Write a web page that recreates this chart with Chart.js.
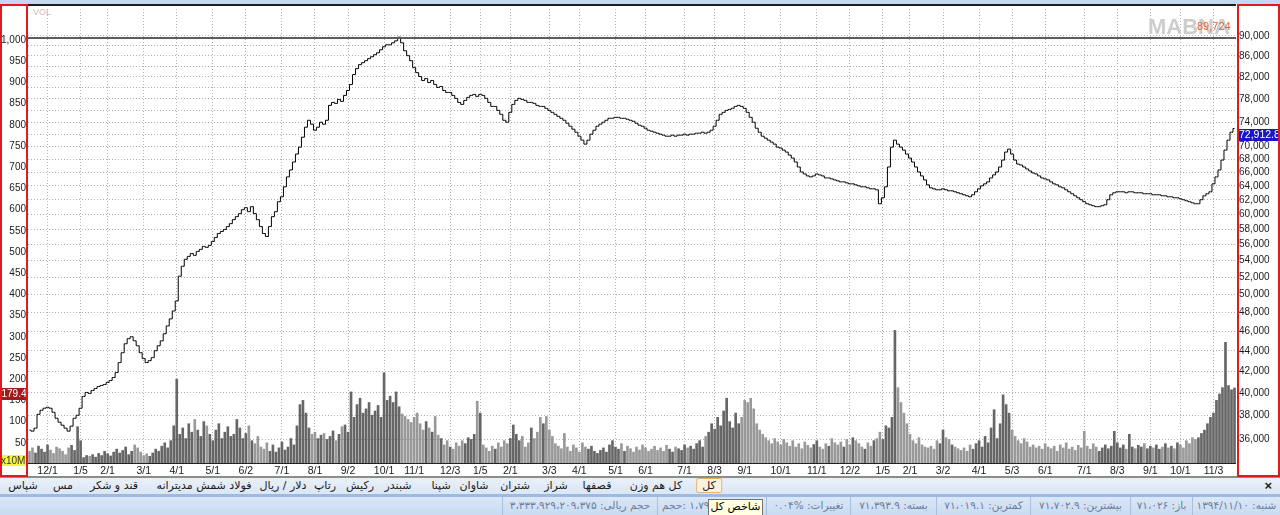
<!DOCTYPE html>
<html>
<head>
<meta charset="utf-8">
<script src="https://cdn.jsdelivr.net/npm/chart.js@4.4.1/dist/chart.umd.min.js"></script>
<style>
  html, body { margin: 0; padding: 0; background: #fff; }
  body { width: 1280px; height: 515px; position: relative; overflow: hidden; font-family: "DejaVu Sans", sans-serif; }
  #wrap { position: absolute; left: 0; top: 0; width: 1280px; height: 477px; }
  #tabs { position: absolute; left: 0; top: 477px; width: 1280px; height: 17px; background: linear-gradient(#e9f0f9, #dbe6f4); border-top: 1px solid #8c8c8c; box-sizing: border-box; }
  .tab { position: absolute; top: 1px; font-size: 11px; color: #1a1a1a; transform: translateX(-50%); white-space: nowrap; direction: rtl; }
  .tab.sel { top: 0; padding: 0 5px; height: 15px; line-height: 14px; border: 1px solid #e2b46a; border-radius: 2px; background: #fbf1df; box-sizing: border-box; }
  #close { position: absolute; right: 8px; top: 0; font-size: 13px; font-weight: bold; color: #222; font-family: "Liberation Sans", sans-serif; }
  #band { position: absolute; left: 0; top: 494px; width: 1280px; height: 3px; background: #9dbbe2; }
  #status { position: absolute; left: 0; top: 497px; width: 1280px; height: 18px; background: linear-gradient(#dae7f6, #c9dbf1); }
  .cell { position: absolute; top: 0; height: 18px; line-height: 17px; font-size: 10.5px; color: #6a7d99; direction: rtl; text-align: center; white-space: nowrap; overflow: hidden; border-left: 1px solid #a9bedb; box-sizing: border-box; }
  #tip { position: absolute; left: 708px; top: 499px; width: 55px; height: 18px; background: #ffffe1; border: 1px solid #767676; box-sizing: border-box; font-size: 11px; line-height: 14px; text-align: center; direction: rtl; color: #000; }
</style>
</head>
<body>
<div id="wrap"><canvas id="chart" width="1280" height="477"></canvas></div>

<div id="tabs">
  <span class="tab" style="left:23px">شپاس</span>
  <span class="tab" style="left:63px">مس</span>
  <span class="tab" style="left:114px">قند و شکر</span>
  <span class="tab" style="left:204px">فولاد شمش مدیترانه</span>
  <span class="tab" style="left:283px">دلار / ریال</span>
  <span class="tab" style="left:325px">رتاپ</span>
  <span class="tab" style="left:360px">رکیش</span>
  <span class="tab" style="left:398px">شبندر</span>
  <span class="tab" style="left:441px">شپنا</span>
  <span class="tab" style="left:474px">شاوان</span>
  <span class="tab" style="left:515px">شتران</span>
  <span class="tab" style="left:556px">شراز</span>
  <span class="tab" style="left:597px">قصفها</span>
  <span class="tab" style="left:656px">کل هم وزن</span>
  <span class="tab sel" style="left:709px">کل</span>
  <span id="close">×</span>
</div>
<div id="band"></div>
<div id="status">
  <div class="cell" style="left:502px;width:155px">حجم ریالی: ۳،۳۳۳،۹۲۹،۲۰۹،۳۷۵</div>
  <div class="cell" style="left:657px;width:109px;text-align:left;padding-left:4px">۱،۷۹۳e+۰۶ :حجم</div>
  <div class="cell" style="left:766px;width:84px">تغییرات: %۰.۰۴</div>
  <div class="cell" style="left:850px;width:86px">بسته: ۷۱،۳۹۳.۹</div>
  <div class="cell" style="left:936px;width:94px">کمترین: ۷۱،۰۱۹.۱</div>
  <div class="cell" style="left:1030px;width:100px">بیشترین: ۷۱،۷۰۲.۹</div>
  <div class="cell" style="left:1130px;width:62px">باز: ۷۱،۰۲۶</div>
  <div class="cell" style="left:1192px;width:88px">شنبه: ۱۳۹۴/۱۱/۱۰</div>
</div>
<div id="tip">شاخص کل</div>

<script>
// Daily index close (one value per trading session)
const priceClose = [
  36740, 36660, 36910, 38090, 38440, 38620, 38700, 38620, 38270, 37750,
  37410, 37160, 36910, 36660, 37080, 37750, 38010, 38620, 39670, 40030,
  39940, 40210, 40390, 40580, 40670, 40760, 40950, 41130, 41410, 41880,
  42840, 43810, 44710, 45230, 45430, 45010, 44510, 43810, 43230, 42840,
  43030, 43330, 44010, 44510, 45010, 45740, 46560, 47310, 48170, 49270,
  52130, 53320, 54170, 54530, 54900, 54660, 55150, 55410, 55780, 55660,
  55910, 56410, 56920, 57440, 57700, 57960, 58350, 58740, 59280, 59680,
  60090, 60630, 60910, 60360, 61050, 60090, 59280, 58350, 57440, 57050,
  58350, 59680, 60360, 61740, 62440, 63870, 65320, 66360, 67570, 68800,
  69890, 71490, 73130, 74290, 73630, 72630, 73130, 73960, 73630, 74290,
  76850, 77370, 77200, 77900, 77550, 78610, 79500, 80590, 82420, 83540,
  84300, 84680, 85060, 85450, 85830, 86220, 86610, 87200, 87790, 88190,
  88190, 88590, 88990, 89720, 88590, 87000, 86030, 85060, 83730, 82790,
  82050, 81320, 81680, 80950, 81320, 80590, 80050, 80230, 79500, 79140,
  79140, 78610, 78080, 77370, 77020, 77720, 78260, 78610, 78790, 78430,
  78790, 78610, 78080, 77370, 76670, 76670, 75980, 75300, 74290, 73960,
  75640, 77020, 77720, 78080, 77900, 77720, 77370, 77370, 77200, 76850,
  76670, 76670, 76330, 75980, 75640, 75300, 74960, 74630, 74290, 73790,
  73290, 72800, 72300, 71650, 71010, 70370, 71010, 71980, 72630, 73290,
  73630, 73960, 74290, 74630, 74630, 74790, 74790, 74630, 74630, 74460,
  74290, 74120, 73790, 73460, 73290, 72960, 72630, 72470, 72300, 72140,
  71980, 71820, 71650, 71650, 71820, 71650, 71820, 71820, 71980, 71820,
  71980, 71980, 72140, 72140, 72300, 72140, 72300, 72630, 73290, 74290,
  75300, 75640, 75980, 76150, 76330, 76670, 76850, 76670, 76330, 75640,
  74790, 73960, 72960, 72300, 71650, 71330, 71010, 70690, 70370, 69890,
  69740, 69420, 69110, 68640, 68180, 67570, 66810, 66060, 65760, 65470,
  65320, 65470, 65760, 65620, 65470, 65170, 65170, 65030, 64880, 64740,
  64590, 64590, 64440, 64300, 64300, 64150, 64010, 63870, 63870, 63720,
  63580, 63580, 63440, 61460, 62300, 63870, 66810, 69890, 71010, 70370,
  69890, 69420, 68800, 68180, 67570, 66810, 66060, 65470, 64880, 64150,
  63720, 63580, 63440, 63440, 63580, 63440, 63290, 63290, 63150, 63010,
  62870, 62720, 62580, 62440, 62720, 63150, 63580, 64010, 64300, 64590,
  65170, 65620, 66060, 66810, 67870, 69110, 69580, 68800, 67870, 67260,
  67110, 66810, 66510, 66210, 65910, 65760, 65470, 65170, 65030, 64880,
  64590, 64300, 64150, 63870, 63720, 63440, 63150, 62870, 62580, 62300,
  62020, 61740, 61460, 61320, 61180, 61050, 61050, 61180, 61320, 62020,
  62720, 63010, 63150, 63150, 63150, 63010, 63150, 63150, 63010, 63010,
  63010, 62870, 62870, 62870, 62720, 62720, 62720, 62580, 62580, 62440,
  62440, 62300, 62300, 62160, 62020, 61880, 61740, 61600, 61460, 61460,
  62020, 62580, 62870, 63150, 64300, 65320, 66360, 67870, 69420, 71010, 72300, 72912.8
];

// Daily volume, in units of 10M shares
const volume = [
  30, 38, 26, 42, 35, 28, 45, 33, 25, 40,
  36, 30, 22, 38, 44, 32, 88, 55, 15, 20,
  18, 22, 16, 25, 20, 30, 24, 19, 28, 35,
  26, 32, 40, 22, 30, 45, 38, 28, 20, 24,
  18, 26, 35, 30, 42, 50, 38, 55, 90, 200,
  70, 85, 60, 95, 75, 105, 80, 65, 100, 90,
  70, 55, 80, 95, 60, 75, 88, 65, 70, 105,
  85, 60, 72, 90, 55, 48, 65, 40, 35, 50,
  30, 45, 28, 38, 52, 33, 40, 60, 45, 90,
  140, 150, 120, 85, 70, 75, 60, 68, 72, 58,
  65, 78, 55, 70, 88, 92, 75, 170, 110, 140,
  155, 120, 130, 145, 115, 125, 138, 110, 215, 150,
  160, 145, 170, 135, 118, 112, 105, 98, 110, 120,
  95, 80, 100, 85, 75, 112, 68, 60, 45, 55,
  40, 35, 50, 42, 55, 48, 62, 58, 70, 148,
  120, 45, 38, 30, 42, 35, 50, 40, 55, 48,
  60, 92, 70, 55, 65, 40, 50, 85, 60, 75,
  110, 95, 112, 80, 65, 48, 42, 36, 72, 40,
  30, 45, 38, 28, 50, 40, 35, 42, 30, 25,
  32, 38, 28, 45, 55, 40, 35, 48, 30, 42,
  36, 28, 40, 33, 45, 38, 30, 35, 42, 32,
  38, 30, 44, 35, 28, 40, 36, 32, 45, 38,
  42, 35, 48, 55, 40, 65, 75, 95, 82, 110,
  90, 125, 155, 100, 85, 120, 95, 110, 150, 145,
  155, 130, 95, 80, 70, 62, 55, 48, 60, 52,
  45, 58, 50, 42, 55, 40, 48, 36, 52, 44,
  38, 46, 55, 40, 35, 48, 42, 60, 50, 45,
  52, 40, 58, 45, 62, 55, 48, 40, 35, 50,
  42, 55, 60, 75, 58, 90, 85, 110, 315, 180,
  145, 120, 95, 70, 55, 48, 62, 45, 40, 38,
  42, 35, 55, 48, 80, 62, 58, 45, 40, 36,
  32, 38, 30, 45, 35, 48, 55, 40, 65, 50,
  85, 128, 60, 95, 163, 140, 120, 80, 65, 55,
  48, 60, 52, 40, 45, 38, 42, 35, 48, 40,
  36, 42, 30, 45, 38, 50, 35, 40, 32, 44,
  38, 77, 42, 35, 48, 40, 30, 38, 45, 36,
  42, 77, 50, 38, 45, 35, 70, 40, 36, 44,
  40, 48, 36, 42, 38, 45, 35, 40, 48, 38,
  42, 36, 50, 45, 38, 55, 48, 62, 58, 62,
  72, 80, 95, 110, 120, 150, 165, 180, 287, 185, 175, 179.4
];

// Month labels on the time axis and the session they fall on
const monthLabels = ['12/1', '1/5', '2/1', '3/1', '4/1', '5/1', '6/2', '7/1', '8/1', '9/2', '10/1', '11/1',
                     '12/3', '1/5', '2/1', '3/3', '4/1', '5/1', '6/1', '7/1', '8/3', '9/1', '10/1', '11/1',
                     '12/2', '1/5', '2/1', '3/2', '4/1', '5/3', '6/1', '7/1', '8/3', '9/1', '10/1', '11/3'];
const monthIdx = [6, 17, 26, 38, 49, 61, 72, 84, 95, 106, 118, 128,
                  140, 150, 160, 173, 183, 195, 205, 218, 228, 238, 250, 262,
                  273, 284, 293, 304, 316, 327, 338, 351, 362, 373, 383, 394];

// Axis ticks
const volTicks = [50, 100, 150, 200, 250, 300, 350, 400, 450, 500, 550, 600, 650, 700, 750, 800, 850, 900, 950, 1000];
const priceTicks = [36000, 38000, 40000, 42000, 44000, 46000, 48000, 50000, 52000, 54000, 56000, 58000, 60000,
                    62000, 64000, 66000, 68000, 70000, 72000, 74000, 76000, 78000, 80000, 82000, 84000, 86000, 88000, 90000];
const priceLabelTicks = [36000, 38000, 40000, 42000, 44000, 46000, 48000, 50000, 52000, 54000, 56000, 58000, 60000,
                         62000, 64000, 66000, 68000, 70000, 74000, 78000, 82000, 86000, 90000];

const maxPrice = 89724;
const lastPrice = 72912.8;
const lastVolume = 179.4;

const dayLabels = priceClose.map(() => '');
monthIdx.forEach((d, k) => { dayLabels[d] = monthLabels[k]; });

const fmt = v => Number(v).toLocaleString('en-US');

// Frame, marker boxes and captions painted around the plot
const frame = {
    id: 'frame',
    beforeDraw(chart) {
        const c = chart.ctx;
        c.save();
        c.fillStyle = '#fff';
        c.fillRect(0, 0, chart.width, chart.height);
        c.restore();
    },
    afterDraw(chart) {
        const c = chart.ctx;
        const a = chart.chartArea;
        const yP = chart.scales.yPrice;
        const yV = chart.scales.yVol;
        c.save();

        // top strip
        c.fillStyle = '#c4d9f1';
        c.fillRect(0, 0, chart.width, 4);
        c.fillStyle = '#1e1e1e';
        c.fillRect(a.left, 4, a.right - a.left, 2);

        // base line and bottom line of the label strip
        c.fillStyle = '#222';
        c.fillRect(a.left, a.bottom - 1, a.right - a.left, 1);
        c.fillStyle = '#8c8c8c';
        c.fillRect(0, chart.height - 1, chart.width, 1);

        // highest price line
        const ym = Math.round(yP.getPixelForValue(maxPrice));
        c.fillStyle = '#5c5c5c';
        c.fillRect(a.left, ym, a.right - a.left, 2);

        // VOL caption
        c.font = '9px "Liberation Sans", sans-serif';
        c.fillStyle = '#d6b2b2';
        c.textBaseline = 'middle';
        c.textAlign = 'left';
        c.fillText('VOL', 33, 13);

        // watermark and max value
        c.font = 'bold 22px "Liberation Sans", sans-serif';
        c.fillStyle = '#cdcdcd';
        c.fillText('MABNA', 1148, 28);
        c.font = '11px "Liberation Sans", sans-serif';
        c.fillStyle = '#e3622e';
        c.fillText(fmt(maxPrice), 1197, 27);

        // last volume box
        const yl = Math.round(yV.getPixelForValue(lastVolume));
        c.fillStyle = '#a01c1c';
        c.fillRect(0, yl, 28, 12);
        c.fillStyle = '#fff';
        c.font = '10px "Liberation Sans", sans-serif';
        c.textAlign = 'center';
        c.fillText(String(lastVolume), 14, yl + 6);

        // unit box
        c.fillStyle = '#f6f53c';
        c.fillRect(0, 455, 28, 11);
        c.fillStyle = '#333';
        c.textAlign = 'left';
        c.fillText('x10M', 1, 461);

        // last price box
        const yp = Math.round(yP.getPixelForValue(lastPrice));
        c.fillStyle = '#1816c8';
        c.fillRect(1238, yp, 42, 12);
        c.fillStyle = '#fff';
        c.font = '10.5px "Liberation Sans", sans-serif';
        c.fillText(fmt(lastPrice), 1239, yp + 6);

        // red axis boxes
        c.strokeStyle = '#e01a1a';
        c.lineWidth = 2;
        c.strokeRect(1, 5, 26, chart.height - 6);
        c.strokeRect(1238, 5, 41, chart.height - 6);
        c.restore();
    }
};

const ctx = document.getElementById('chart').getContext('2d');
new Chart(ctx, {
    type: 'bar',
    data: {
        labels: dayLabels,
        datasets: [
            {
                type: 'line',
                label: 'شاخص کل',
                data: priceClose,
                yAxisID: 'yPrice',
                borderColor: '#000',
                borderWidth: 1,
                pointRadius: 0,
                stepped: 'middle',
                order: 0
            },
            {
                type: 'bar',
                label: 'VOL',
                data: volume,
                yAxisID: 'yVol',
                backgroundColor: (c) => {
                    const i = c.dataIndex;
                    return i > 0 && priceClose[i] >= priceClose[i - 1] ? '#666' : '#999';
                },
                barThickness: 2,
                order: 1
            }
        ]
    },
    options: {
        responsive: false,
        animation: false,
        events: [],
        layout: { padding: { top: 6, left: 0, right: 0, bottom: 0 } },
        plugins: {
            legend: { display: false },
            tooltip: { enabled: false }
        },
        scales: {
            x: {
                type: 'category',
                offset: true,
                afterBuildTicks: (s) => { s.ticks = monthIdx.map(i => ({ value: i })); },
                afterFit: (s) => { s.height = 13; },
                grid: { offset: false, color: '#b0b0b0', drawTicks: false },
                border: { display: false, dash: [1, 2] },
                ticks: {
                    autoSkip: false,
                    maxRotation: 0,
                    padding: 1,
                    color: '#1a1a1a',
                    font: { family: '"Liberation Sans", sans-serif', size: 10.5 }
                }
            },
            yVol: {
                type: 'linear',
                position: 'left',
                min: 0,
                max: 1073,
                bounds: 'data',
                afterBuildTicks: (s) => { s.ticks = volTicks.map(v => ({ value: v })); },
                afterFit: (s) => { s.width = 28; },
                grid: { display: false, drawTicks: false },
                border: { display: false },
                ticks: {
                    autoSkip: false,
                    padding: 2,
                    color: '#1a1a1a',
                    font: { family: '"Liberation Sans", sans-serif', size: 10 },
                    callback: (v) => fmt(v)
                }
            },
            yPrice: {
                type: 'logarithmic',
                position: 'right',
                min: 34024,
                max: 95660,
                bounds: 'data',
                afterBuildTicks: (s) => { s.ticks = priceTicks.map(v => ({ value: v })); },
                afterFit: (s) => { s.width = 44; },
                grid: { color: '#b0b0b0', drawTicks: false },
                border: { display: false, dash: [1, 2] },
                ticks: {
                    autoSkip: false,
                    padding: 3,
                    color: '#1a1a1a',
                    font: { family: '"Liberation Sans", sans-serif', size: 10 },
                    callback: (v) => priceLabelTicks.includes(v) ? fmt(v) : ''
                }
            }
        }
    },
    plugins: [frame]
});
</script>
</body>
</html>
